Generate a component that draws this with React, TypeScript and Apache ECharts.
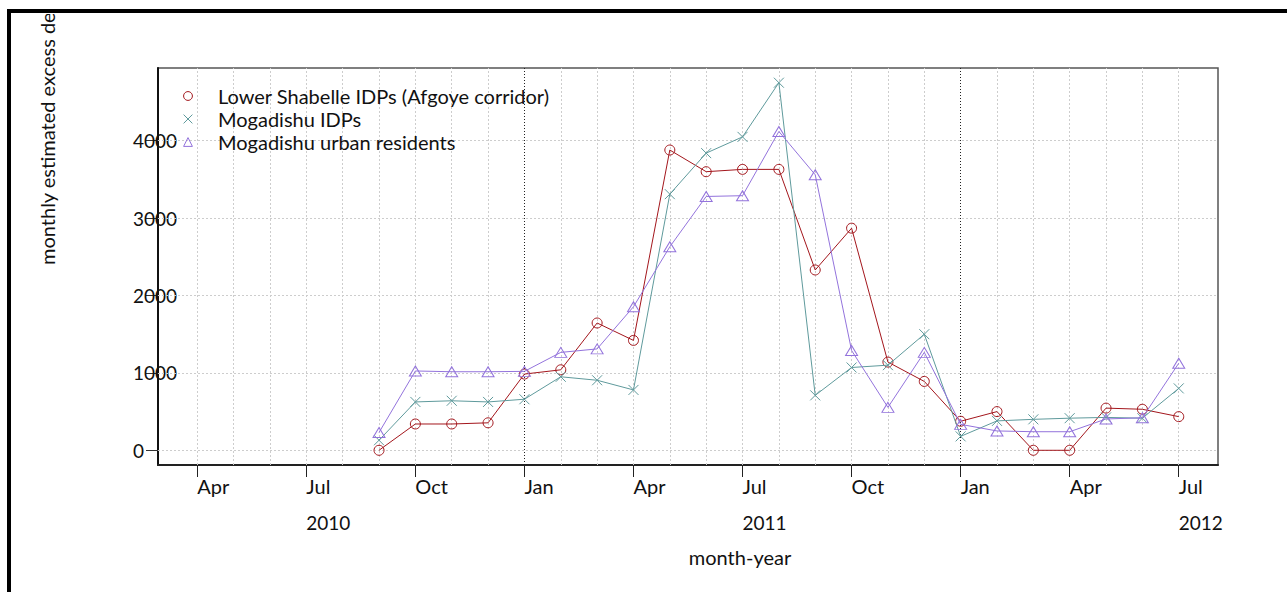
import React, { useEffect, useRef } from "react";
import * as echarts from "echarts";

// ---- data ----
const months = [
  "2010-09", "2010-10", "2010-11", "2010-12",
  "2011-01", "2011-02", "2011-03", "2011-04", "2011-05", "2011-06",
  "2011-07", "2011-08", "2011-09", "2011-10", "2011-11", "2011-12",
  "2012-01", "2012-02", "2012-03", "2012-04", "2012-05", "2012-06", "2012-07",
];
const lowerShabelle = [0, 340, 340, 355, 985, 1040, 1645, 1420, 3880, 3600, 3630, 3630, 2330, 2870, 1140, 890, 375, 500, 0, 0, 545, 530, 435];
const mogadishuIDPs = [130, 625, 640, 625, 660, 950, 905, 780, 3310, 3840, 4050, 4750, 710, 1070, 1100, 1500, 180, 380, 400, 415, 425, 415, 800];
const mogadishuUrban = [230, 1025, 1015, 1015, 1020, 1265, 1310, 1855, 2630, 3280, 3290, 4120, 3560, 1290, 555, 1265, 335, 250, 240, 240, 405, 420, 1125];

const seriesNames = [
  "Lower Shabelle IDPs (Afgoye corridor)",
  "Mogadishu IDPs",
  "Mogadishu urban residents",
];
const monthNames = ["Jan", "Feb", "Mar", "Apr", "May", "Jun", "Jul", "Aug", "Sep", "Oct", "Nov", "Dec"];
const baseYear = 2010;
const quarterTicks = ["2010-04", "2010-07", "2010-10", "2011-01", "2011-04", "2011-07", "2011-10", "2012-01", "2012-04", "2012-07"];
const yearLabelAt = ["2010-07", "2011-07", "2012-07"];
const yearBoundaries = ["2011-01", "2012-01"];
const yTicks = [0, 1000, 2000, 3000, 4000];
const gridFrom = "2010-04";
const gridTo = "2012-07";

const toIdx = (s: string) => {
  const [y, m] = s.split("-").map(Number);
  return (y - baseYear) * 12 + (m - 1);
};

const FONT = "Lato";
const RED = "#a3161c";
const TEAL = "#5f9a9c";
const PURPLE = "#9373dc";

export default function App() {
  const ref = useRef<HTMLDivElement>(null);
  useEffect(() => {
    if (!ref.current) return;
    const chart = echarts.init(ref.current, undefined, { renderer: "svg" });
    const xs = months.map(toIdx);
    const mk = (vals: number[]) => xs.map((x, i) => [x, vals[i]]);
    const gridMonths: number[] = [];
    for (let m = toIdx(gridFrom); m <= toIdx(gridTo); m++) {
      if (!yearBoundaries.map(toIdx).includes(m)) gridMonths.push(m);
    }
    const xMin = toIdx(gridFrom) - 0.04 * (toIdx(gridTo) - toIdx(gridFrom));
    const xMax = toIdx(gridTo) + 0.04 * (toIdx(gridTo) - toIdx(gridFrom));
    const yMin = -190;
    const yMax = 4940;
    const textColor = "#111";

    const symbols = ["circle", "path://M0,0L10,10M10,0L0,10", "triangle"];
    const sizes: any[] = [10, 10, [12, 10]];
    const colors = [RED, TEAL, PURPLE];
    const values = [lowerShabelle, mogadishuIDPs, mogadishuUrban];

    const series: any[] = values.map((vals, i) => ({
      name: seriesNames[i],
      type: "line",
      data: mk(vals),
      symbol: symbols[i],
      symbolSize: sizes[i],
      showAllSymbol: true,
      z: 3 + i,
      itemStyle: { color: "none", borderColor: colors[i], borderWidth: 1 },
      lineStyle: { color: colors[i], width: 1 },
    }));
    series[0].markLine = {
      silent: true,
      symbol: "none",
      z: 1,
      label: { show: false },
      emphasis: { disabled: true },
      lineStyle: { color: "#cdcdcd", type: [2, 2], width: 1 },
      data: [
        ...gridMonths.map((m) => ({ xAxis: m })),
        ...yTicks.map((v) => ({ yAxis: v })),
      ],
    };
    series[1].markLine = {
      silent: true,
      symbol: "none",
      z: 1,
      label: { show: false },
      emphasis: { disabled: true },
      lineStyle: { color: "#222", type: [1, 2], width: 1 },
      data: yearBoundaries.map((s) => ({ xAxis: toIdx(s) })),
    };

    chart.setOption({
      animation: false,
      backgroundColor: "#fff",
      grid: {
        left: 158, top: 68, right: 69, bottom: 127,
        show: true, borderColor: "#555", borderWidth: 1.5, backgroundColor: "transparent",
      },
      xAxis: [
        {
          type: "value", min: xMin, max: xMax, position: "bottom",
          axisLine: { show: true, onZero: false, lineStyle: { color: "#222", width: 2 } },
          axisTick: { show: true, length: 12, customValues: quarterTicks.map(toIdx), lineStyle: { color: "#222", width: 1 } },
          axisLabel: {
            customValues: quarterTicks.map(toIdx),
            formatter: (v: number) => monthNames[((Math.round(v) % 12) + 12) % 12],
            align: "left", margin: 11, color: textColor, fontFamily: FONT, fontSize: 20,
          },
          splitLine: { show: false },
        },
        {
          type: "value", min: xMin, max: xMax, position: "bottom",
          axisLine: { show: false }, axisTick: { show: false },
          axisLabel: {
            customValues: yearLabelAt.map(toIdx),
            formatter: (v: number) => String(baseYear + Math.floor(Math.round(v) / 12)),
            align: "left", margin: 48, color: textColor, fontFamily: FONT, fontSize: 19,
          },
          splitLine: { show: false },
        },
      ],
      yAxis: {
        type: "value", min: yMin, max: yMax,
        axisLine: { show: true, onZero: false, lineStyle: { color: "#111", width: 2 } },
        axisTick: { show: true, length: 12, customValues: yTicks, lineStyle: { color: "#333" } },
        axisLabel: {
          customValues: yTicks, align: "left", margin: 25,
          formatter: (v: number) => String(v),
          color: textColor, fontFamily: FONT, fontSize: 19,
        },
        splitLine: { show: false },
      },
      legend: {
        orient: "vertical", left: 163, top: 86, padding: 0,
        itemWidth: 50, itemHeight: 11, itemGap: 3,
        selectedMode: false,
        lineStyle: { opacity: 0, width: 0 },
        textStyle: { fontFamily: FONT, fontSize: 20, lineHeight: 20, color: textColor },
        data: seriesNames.map((n, i) => ({
          name: n,
          itemStyle: { color: "none", borderColor: colors[i], borderWidth: 1 },
        })),
      },
      graphic: [
        {
          type: "text", x: 47, y: 265, rotation: Math.PI / 2, z: 50,
          style: {
            text: "monthly estimated excess deaths", fill: textColor,
            font: `20px ${FONT}`, textAlign: "left", textVerticalAlign: "middle",
          },
        },
        {
          type: "rect", z: 60, shape: { x: 0, y: 0, width: 1287, height: 14 },
          style: { fill: "#fff" },
        },
        {
          type: "line", z: 70, shape: { x1: 7, y1: 11, x2: 1287, y2: 11 },
          style: { stroke: "#000", lineWidth: 4 },
        },
        {
          type: "line", z: 70, shape: { x1: 9, y1: 9, x2: 9, y2: 592 },
          style: { stroke: "#000", lineWidth: 4 },
        },
        {
          type: "text", x: 740, y: 557, z: 50,
          style: {
            text: "month-year", fill: textColor, font: `20px ${FONT}`,
            textAlign: "center", textVerticalAlign: "middle",
          },
        },
      ],
      series,
    });
    return () => chart.dispose();
  }, []);
  return (
    <div
      ref={ref}
      style={{ position: "fixed", left: 0, top: 0, width: 1287, height: 592 }}
    />
  );
}
